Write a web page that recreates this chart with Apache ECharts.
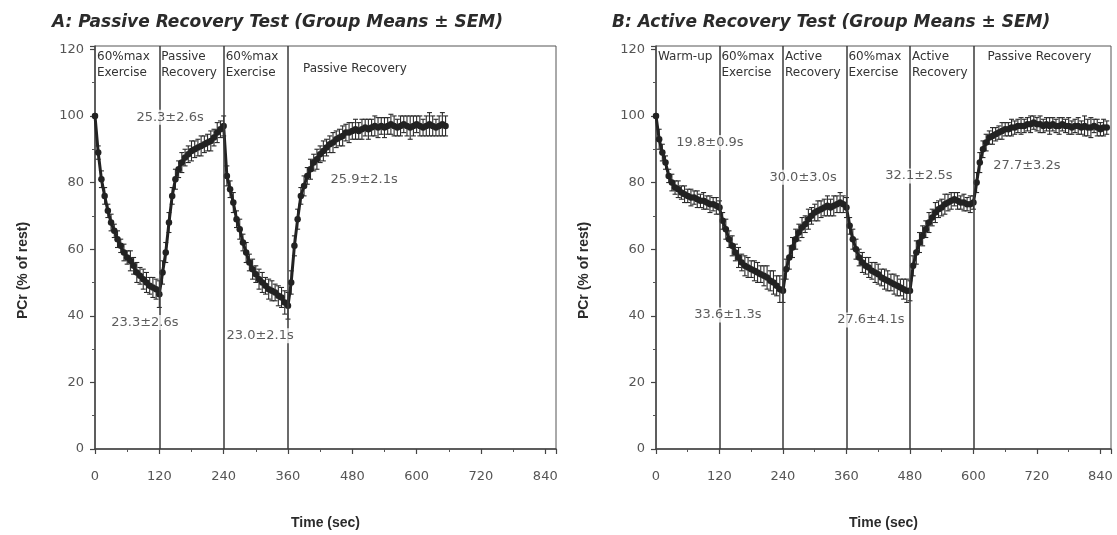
<!DOCTYPE html>
<html>
<head>
<meta charset="utf-8">
<script src="https://cdn.jsdelivr.net/npm/echarts@6/dist/echarts.min.js"></script>
<style>
  html, body { margin: 0; padding: 0; background: #fff; }
  #chart { width: 1117px; height: 535px; }
</style>
</head>
<body>
<div id="chart"></div>
<script>
// Sampling interval of the PCr time course (seconds between means)
const STEP_SEC = 6;

// A: passive recovery test, group means (% of rest) and SEM
const passiveMeans = [
  100, 89, 81, 76, 71.5, 68, 65.5, 63, 61, 59, 57.5, 56.5, 55, 53, 52, 51, 50, 49, 48.5, 48, 46.5,
  53, 59, 68, 76, 81, 84, 86, 87.5, 88.5, 89.5, 90, 90.5, 91, 91.5, 92, 92.5, 93.5, 95, 96, 97,
  82, 78, 74, 69, 66, 62, 59, 56, 54, 52.5, 51, 50, 49, 48, 47.5, 47, 46, 45.5, 44, 43,
  50, 61, 69, 76, 79, 82, 84, 86, 87, 88.5, 89.5, 90.5, 91.5, 92, 93, 93.5, 94, 95, 95, 95.5,
  96, 95.5, 96, 96.5, 96, 96.5, 97, 96.5, 97, 96.5, 97, 97.5, 97, 96.5, 97, 97.5, 97, 96.5, 97,
  97.5, 97, 96.5, 97, 97.5, 97, 96.5, 97, 97.5, 97
];
const passiveSem = [
  0.5, 2, 2.5, 2.5, 2, 2.5, 2, 2.5, 2, 2.5, 2, 3, 2.5, 3, 2.5, 3, 3, 2.5, 3, 3, 4,
  3.5, 3, 3, 2.5, 3, 2.5, 3, 2.5, 2.5, 3, 2.5, 2.5, 3, 2.5, 2.5, 3, 2.5, 3, 2.5, 3,
  3, 2.5, 3, 2.5, 3, 2.5, 3, 2.5, 3, 2.5, 3, 3, 2.5, 3, 3, 2.5, 3, 3, 3.5, 4,
  3.5, 3, 3, 2.5, 3, 2.5, 3, 2.5, 3, 2.5, 3, 2.5, 2.5, 3, 2.5, 2.5, 3, 2.5, 3, 2.5,
  3, 2.5, 3, 2.5, 3, 2.5, 3, 3, 2.5, 3, 2.5, 3, 3, 2.5, 3, 2.5, 3, 3.5, 3,
  2.5, 3, 2.5, 3, 3.5, 3, 2.5, 3, 3.5, 3
];

// B: active recovery test, group means (% of rest) and SEM
const activeMeans = [
  100, 93, 89, 86, 82, 80, 78.5, 78, 77, 76.5, 76, 75.5, 75.5, 75, 74.5, 74.5, 74, 73.5, 73.5, 73, 72.5,
  68.5, 66, 63, 61, 59, 57.5, 56, 55, 54.5, 54, 53.5, 53, 52.5, 52, 51.5, 50.5, 50, 49, 48, 47.5,
  54, 57.5, 60.5, 63, 65, 66.5, 67.5, 69, 70, 71, 71.5, 72, 72.5, 73, 72.5, 73, 73.5, 74, 73.5, 72.5,
  67, 63, 60, 57.5, 56, 55, 54.5, 53.5, 53, 52.5, 51.5, 51, 50.5, 50, 49.5, 49, 48.5, 48, 47.5, 47.5,
  55, 59, 62, 64, 66, 68, 69.5, 71, 72, 72.5, 73.5, 74, 74.5, 75, 74.5, 74, 74, 73.5, 73.5, 74,
  80, 86, 90, 92, 93.5, 94, 94.5, 95, 95.5, 96, 96, 96.5, 96.5, 97, 97, 97, 97.5, 97.5, 98, 97.5,
  97.5, 97, 97.5, 97, 97.5, 97, 97, 97.5, 97, 97, 96.5, 97, 97, 96.5, 97, 96.5, 96.5, 97, 96.5, 96,
  96.5, 96.5
];
const activeSem = [
  0.5, 3, 2.5, 2, 2, 2.5, 2, 2.5, 2, 2.5, 2, 2.5, 2, 2.5, 2, 2.5, 2, 2.5, 2, 2.5, 2,
  2.5, 3, 2.5, 3, 2.5, 3, 2.5, 3, 3, 2.5, 3, 3, 2.5, 3, 3.5, 3, 3.5, 3, 4, 3.5,
  3, 3.5, 3, 3, 2.5, 3, 2.5, 3, 2.5, 2.5, 3, 2.5, 2.5, 3, 2.5, 3, 2.5, 3, 2.5, 3,
  2.5, 3, 3, 2.5, 3, 2.5, 3, 2.5, 3, 3, 2.5, 3, 3, 2.5, 3, 3, 2.5, 3, 3.5, 3,
  3, 3.5, 3, 3, 2.5, 3, 2.5, 3, 2.5, 2.5, 3, 2.5, 2.5, 2, 2.5, 2, 2.5, 2, 2.5, 2,
  3, 3, 2.5, 2.5, 2, 2.5, 2, 2, 2.5, 2, 2, 2.5, 2, 2, 2.5, 2, 2, 2.5, 2, 2,
  2.5, 2, 2, 2.5, 2, 2, 2.5, 2, 2, 2.5, 2, 2, 2.5, 2, 3, 2.5, 3, 2, 2.5, 2,
  2.5, 2
];

// Protocol phases: [start s, end s, label]
const passivePhases = [
  [0, 120, '60%max\nExercise'],
  [120, 240, 'Passive\nRecovery'],
  [240, 360, '60%max\nExercise'],
  [360, 860, 'Passive Recovery']
];
const activePhases = [
  [0, 120, 'Warm-up'],
  [120, 240, '60%max\nExercise'],
  [240, 360, 'Active\nRecovery'],
  [360, 480, '60%max\nExercise'],
  [480, 600, 'Active\nRecovery'],
  [600, 860, 'Passive Recovery']
];

// Fitted time constants, anchored at [time s, PCr %]
const passiveTau = [
  [140, 99.6, '25.3±2.6s'],
  [93, 38, '23.3±2.6s'],
  [308, 34, '23.0±2.1s'],
  [502, 81, '25.9±2.1s']
];
const activeTau = [
  [102, 92, '19.8±0.9s'],
  [136, 40.2, '33.6±1.3s'],
  [278, 81.6, '30.0±3.0s'],
  [406, 38.7, '27.6±4.1s'],
  [497, 82, '32.1±2.5s'],
  [701, 85.2, '27.7±3.2s']
];

const titles = [
  'A: Passive Recovery Test (Group Means ± SEM)',
  'B: Active Recovery Test (Group Means ± SEM)'
];
const xTicks = [0, 120, 240, 360, 480, 600, 720, 840];
const yTicks = [0, 20, 40, 60, 80, 100, 120];

const INK = '#2b2b2b';
const FONT = 'DejaVu Sans';

function points(means, sem) {
  return means.map((v, i) => [i * STEP_SEC, v, sem[i]]);
}

function xAxisFor(gridIndex) {
  return {
    type: 'value', gridIndex, min: 0, max: 860, interval: 120,
    name: 'Time (sec)', nameLocation: 'middle', nameGap: 67,
    nameTextStyle: { fontFamily: 'Liberation Sans', fontWeight: 'bold', fontSize: 14, color: INK },
    axisLine: { onZero: false, lineStyle: { color: '#444', width: 1.5 } },
    axisTick: { length: 5, lineStyle: { color: '#444', width: 1.2 } },
    minorTick: { show: true, splitNumber: 2, length: 3, lineStyle: { color: '#555' } },
    splitLine: { show: false },
    axisLabel: {
      margin: 21, fontFamily: FONT, fontSize: 13, color: '#555', showMaxLabel: false,
      formatter: v => (xTicks.indexOf(v) >= 0 ? String(v) : '')
    }
  };
}

function yAxisFor(gridIndex) {
  return {
    type: 'value', gridIndex, min: 0, max: 121, interval: 20,
    name: 'PCr (% of rest)', nameLocation: 'middle', nameGap: 65, nameRotate: 90,
    nameTextStyle: {
      fontFamily: 'Liberation Sans', fontWeight: 'bold', fontSize: 14, color: INK,
      padding: [0, 46, 0, 0]
    },
    axisLine: { onZero: false, lineStyle: { color: '#444', width: 1.5 } },
    axisTick: { length: 5, lineStyle: { color: '#444', width: 1.2 } },
    minorTick: { show: true, splitNumber: 2, length: 3, lineStyle: { color: '#555' } },
    splitLine: { show: false },
    axisLabel: {
      margin: 11, fontFamily: FONT, fontSize: 13, color: '#555', showMaxLabel: false,
      formatter: v => (yTicks.indexOf(v) >= 0 ? String(v) : '')
    }
  };
}

// Vertical SEM whiskers with short caps, placed through the axis scales
function errorBars(data, idx) {
  return {
    type: 'custom', xAxisIndex: idx, yAxisIndex: idx, z: 3,
    encode: { x: 0, y: 1 },
    data,
    silent: true,
    renderItem(params, api) {
      const t = api.value(0), v = api.value(1), e = api.value(2);
      const hi = api.coord([t, v + e]);
      const lo = api.coord([t, v - e]);
      const cap = 2.5;
      const style = { stroke: '#2a2a2a', lineWidth: 1.1 };
      return {
        type: 'group',
        children: [
          { type: 'line', shape: { x1: hi[0], y1: hi[1], x2: lo[0], y2: lo[1] }, style },
          { type: 'line', shape: { x1: hi[0] - cap, y1: hi[1], x2: hi[0] + cap, y2: hi[1] }, style },
          { type: 'line', shape: { x1: lo[0] - cap, y1: lo[1], x2: lo[0] + cap, y2: lo[1] }, style }
        ]
      };
    }
  };
}

// Phase boundaries and the phase names in the top band of each panel
function phaseSeries(phases, idx, longOffset) {
  return {
    type: 'scatter', xAxisIndex: idx, yAxisIndex: idx, data: [], z: 1, silent: true,
    markLine: {
      silent: true, symbol: 'none', animation: false,
      label: { show: false },
      lineStyle: { color: '#3a3a3a', width: 1.5, type: 'solid' },
      data: phases.slice(1).map(p => ({ xAxis: p[0] }))
    },
    markArea: {
      silent: true, animation: false,
      itemStyle: { color: 'rgba(0,0,0,0)' },
      data: phases.map((p, i) => [
        {
          xAxis: p[0], yAxis: 121,
          label: {
            show: true, position: 'insideTopLeft', distance: 0,
            offset: (i === phases.length - 1) ? longOffset : [2, 3],
            formatter: p[2], fontFamily: FONT, fontSize: 12, lineHeight: 16,
            color: '#333'
          }
        },
        { xAxis: p[1], yAxis: 0 }
      ])
    }
  };
}

function tauSeries(list, idx) {
  return {
    type: 'scatter', xAxisIndex: idx, yAxisIndex: idx, z: 6, silent: true,
    symbolSize: 0,
    data: list.map(a => ({ value: [a[0], a[1]], name: a[2] })),
    label: {
      show: true, position: 'inside', formatter: '{b}',
      fontFamily: FONT, fontSize: 13, color: '#333',
      backgroundColor: '#fff', padding: [1, 1]
    }
  };
}

function meansSeries(data, idx) {
  return {
    type: 'line', xAxisIndex: idx, yAxisIndex: idx, z: 4, silent: true,
    symbol: 'circle', symbolSize: 6.5, showSymbol: true,
    lineStyle: { color: '#222', width: 3 },
    itemStyle: { color: '#222' },
    data: data.map(d => [d[0], d[1]])
  };
}

const passiveData = points(passiveMeans, passiveSem);
const activeData = points(activeMeans, activeSem);

const chart = echarts.init(document.getElementById('chart'), null, { renderer: 'canvas' });
chart.setOption({
  backgroundColor: '#fff',
  animation: false,
  title: titles.map((t, i) => ({
    text: t,
    left: i === 0 ? 47 : 607, top: 9,
    textStyle: {
      fontFamily: 'DejaVu Sans', fontSize: 17, fontWeight: 'bold', fontStyle: 'italic', color: INK
    }
  })),
  grid: [
    { left: 95, top: 46, width: 461, height: 403, show: true, borderColor: '#555', borderWidth: 1, backgroundColor: 'transparent' },
    { left: 656, top: 46, width: 455, height: 403, show: true, borderColor: '#555', borderWidth: 1, backgroundColor: 'transparent' }
  ],
  xAxis: [xAxisFor(0), xAxisFor(1)],
  yAxis: [yAxisFor(0), yAxisFor(1)],
  series: [
    phaseSeries(passivePhases, 0, [15, 15]),
    phaseSeries(activePhases, 1, [14, 3]),
    errorBars(passiveData, 0),
    errorBars(activeData, 1),
    meansSeries(passiveData, 0),
    meansSeries(activeData, 1),
    tauSeries(passiveTau, 0),
    tauSeries(activeTau, 1)
  ]
});
</script>
</body>
</html>
